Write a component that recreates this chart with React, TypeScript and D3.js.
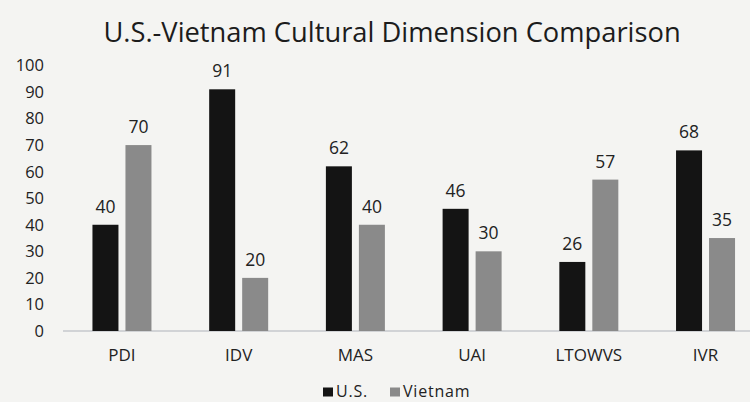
import * as d3 from 'd3'

const categories = ['PDI', 'IDV', 'MAS', 'UAI', 'LTOWVS', 'IVR']
const usValues = [40, 91, 62, 46, 26, 68]
const vietnamValues = [70, 20, 40, 30, 57, 35]
const yTicks = [0, 10, 20, 30, 40, 50, 60, 70, 80, 90, 100]
const seriesNames = ['U.S.', 'Vietnam']
const seriesColors = ['#141414', '#8a8a8a']

const width = 750
const height = 402
const font = "'Open Sans', 'DejaVu Sans', sans-serif"

export default function App() {
  const x = d3.scaleBand<string>().domain(categories).range([63.6, 763.9])
  const y = d3.scaleLinear().domain([0, 100]).range([331, 65.4])
  const barW = 26
  const gap = 7
  const series = [usValues, vietnamValues]
  const legendX = [323, 390]

  return (
    <div style={{ position: 'fixed', left: 0, top: 0 }}>
      <svg width={width} height={height} style={{ display: 'block' }}>
        <rect x={0} y={0} width={width} height={height} fill="#f4f4f2" />

        {/* title */}
        <text
          x={392}
          y={42}
          textAnchor="middle"
          fontFamily={font}
          fontSize={27.3}
          fill="#1c1c1c"
        >
          U.S.-Vietnam Cultural Dimension Comparison
        </text>

        {/* y axis labels */}
        {yTicks.map(t => (
          <text
            key={t}
            x={44}
            y={y(t)}
            dy="0.36em"
            textAnchor="end"
            fontFamily={font}
            fontSize={16.5}
            fill="#222"
          >
            {t}
          </text>
        ))}

        {/* baseline */}
        <line x1={63} x2={width} y1={y(0)} y2={y(0)} stroke="#aeb2ba" strokeWidth={1.2} />

        {/* bars */}
        {categories.map((c, i) => {
          const cx = x(c)! + x.bandwidth() / 2
          return series.map((vals, s) => {
            const bx = s === 0 ? cx - gap / 2 - barW : cx + gap / 2
            const v = vals[i]
            return (
              <g key={c + s}>
                <rect
                  x={bx}
                  y={y(v)}
                  width={barW}
                  height={y(0) - y(v)}
                  fill={seriesColors[s]}
                />
                <text
                  x={bx + barW / 2}
                  y={y(v) - 12}
                  textAnchor="middle"
                  fontFamily={font}
                  fontSize={17.5}
                  fill="#222"
                >
                  {v}
                </text>
              </g>
            )
          })
        })}

        {/* category labels */}
        {categories.map(c => (
          <text
            key={c}
            x={x(c)! + x.bandwidth() / 2}
            y={361}
            textAnchor="middle"
            fontFamily={font}
            fontSize={17}
            fill="#222"
          >
            {c}
          </text>
        ))}

        {/* legend */}
        {seriesNames.map((name, i) => (
          <g key={name}>
            <rect x={legendX[i]} y={387.5} width={10} height={9} fill={seriesColors[i]} />
            <text
              x={legendX[i] + 13}
              y={396.5}
              fontFamily={font}
              fontSize={16}
              letterSpacing={0.8}
              fill="#222"
            >
              {name}
            </text>
          </g>
        ))}
      </svg>
    </div>
  )
}
